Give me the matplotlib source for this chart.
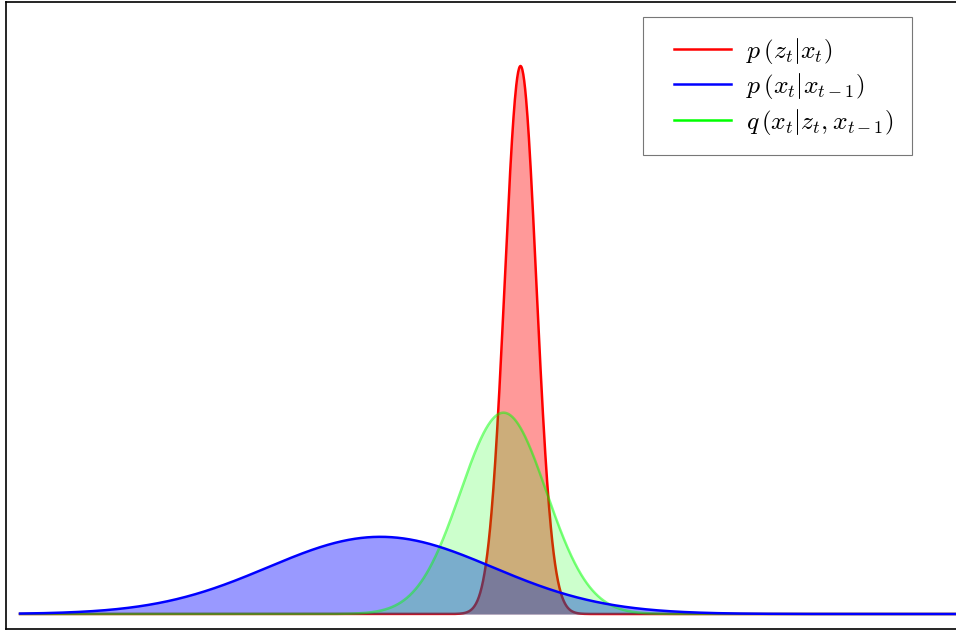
import numpy as np
import matplotlib
matplotlib.use('Agg')
import matplotlib.pyplot as plt
from matplotlib.lines import Line2D
from matplotlib.legend_handler import HandlerLine2D

plt.rcParams['mathtext.fontset'] = 'cm'

# gaussian densities (mean, std)
labels = [r'$p\,\left(z_t|x_t\right)$',
          r'$p\,\left(x_t|x_{t-1}\right)$',
          r'$q\,\left(x_t|z_t,x_{t-1}\right)$']
colors = ['red', 'blue', 'lime']
means = [0.353, -1.146, 0.171]
stds = [0.169, 1.2, 0.46]
fill_alpha = [0.4, 0.4, 0.2]
line_alpha = [1.0, 1.0, 0.5]

x_lo, x_hi = -5.0, 5.0


def gauss(x, mu, sd):
    return np.exp(-0.5 * ((x - mu) / sd) ** 2) / (sd * np.sqrt(2 * np.pi))


fig = plt.figure(figsize=(9.56, 6.32), dpi=100)
ax = fig.add_axes([6 / 956, 3 / 632, 951 / 956, 627 / 632])

x = np.linspace(x_lo, x_hi, 2000)
ys = [gauss(x, m, s) for m, s in zip(means, stds)]
lw = 1.8

# red
ax.fill_between(x, 0, ys[0], color=colors[0], alpha=fill_alpha[0], lw=0, zorder=1)
ax.plot(x, ys[0], color=colors[0], lw=lw, label=labels[0], zorder=2)
# blue fill, green, then blue line on top
ax.fill_between(x, 0, ys[1], color=colors[1], alpha=fill_alpha[1], lw=0, zorder=3)
ax.fill_between(x, 0, ys[2], color=colors[2], alpha=fill_alpha[2], lw=0, zorder=4)
ax.plot(x, ys[2], color=colors[2], lw=lw, alpha=line_alpha[2], zorder=5)
ax.plot(x, ys[1], color=colors[1], lw=lw, label=labels[1], zorder=6)
ax.plot([], [], color=colors[2], lw=lw, label=labels[2])

ax.set_xlim(x_lo - 14 / 93.4, x_hi + 2 / 93.4)
peak = ys[0].max()
ppu = 548 / peak
ax.set_ylim(-15 / ppu, peak + 64 / ppu)
ax.set_xticks([])
ax.set_yticks([])
ax.spines['right'].set_visible(False)
for s in ['left', 'top', 'bottom']:
    ax.spines[s].set_linewidth(1.2)

leg = ax.legend(loc='upper right', bbox_to_anchor=((912 - 6) / 951, (629 - 17) / 627),
                borderaxespad=0, fontsize=18.5, fancybox=False, framealpha=1,
                edgecolor='#777777', handlelength=2.72, labelspacing=0.22,
                borderpad=0.72, handletextpad=0.58,
                handler_map={Line2D: HandlerLine2D(xpad=0.5)})
leg.get_frame().set_linewidth(0.8)

fig.savefig('out.png', dpi=100)
